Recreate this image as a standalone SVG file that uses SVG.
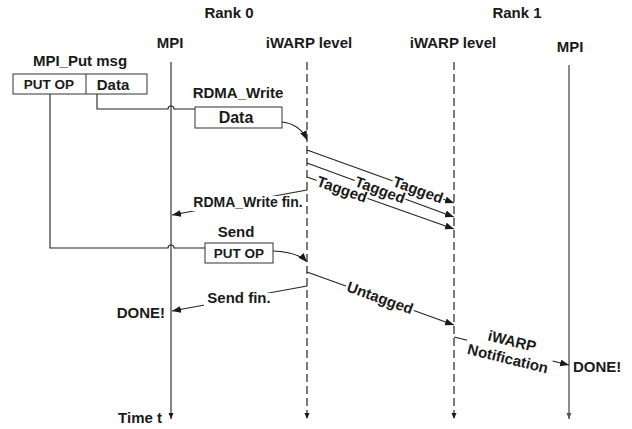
<svg xmlns="http://www.w3.org/2000/svg" width="632" height="429" viewBox="0 0 632 429">
<style>
text{font-family:"Liberation Sans",Arial,sans-serif;font-weight:bold;fill:#1a1a1a;font-size:15px}
.c{text-anchor:middle}
.e{text-anchor:end}
.bx{font-size:13.5px}
.ln{fill:none;stroke:#222;stroke-width:1.1}
.dash{fill:none;stroke:#222;stroke-width:1.2;stroke-dasharray:8 4}
.box{fill:#fff;stroke:#333;stroke-width:1}
.bg{fill:#fff;stroke:none}
</style>
<defs>
<marker id="ah" markerUnits="userSpaceOnUse" markerWidth="10" markerHeight="8" refX="9" refY="3.5" orient="auto">
<path d="M0,0 L9,3.5 L0,7 z" fill="#1a1a1a"/>
</marker>
<marker id="as" markerUnits="userSpaceOnUse" markerWidth="7" markerHeight="6" refX="6" refY="2.5" orient="auto">
<path d="M0,0 L6,2.5 L0,5 z" fill="#1a1a1a"/>
</marker>
<marker id="ag" markerUnits="userSpaceOnUse" markerWidth="7" markerHeight="6" refX="6" refY="2.5" orient="auto">
<path d="M0,0 L6,2.5 L0,5 z" fill="#555"/>
</marker>
</defs>

<g id="headers">
<text class="c" x="229" y="18">Rank 0</text>
<text class="c" x="517" y="18">Rank 1</text>
</g>

<g id="lifeline-mpi0">
<text class="c" x="170" y="48">MPI</text>
<path class="ln" d="M171,62 V419" marker-end="url(#as)"/>
</g>
<g id="lifeline-iwarp0">
<text class="c" x="309" y="48">iWARP level</text>
<path class="dash" d="M307,62 V419" marker-end="url(#as)"/>
</g>
<g id="lifeline-iwarp1">
<text class="c" x="453" y="48">iWARP level</text>
<path class="dash" d="M454,62 V419" marker-end="url(#as)"/>
</g>
<g id="lifeline-mpi1">
<text class="c" x="570" y="52">MPI</text>
<path d="M569,65 V419" fill="none" stroke="#808080" stroke-width="1.8" marker-end="url(#ag)"/>
</g>

<g id="connectors">
<path class="ln" d="M50,94 V248 H168 a3,3 0 0 1 6,0 H205"/>
<path class="ln" d="M97,94 V109 H168 a3,3 0 0 1 6,0 H195"/>
<path class="ln" d="M282,122 Q300,124 307,140" marker-end="url(#ah)"/>
<path class="ln" d="M307,150 L454,203" marker-end="url(#ah)"/>
<path class="ln" d="M307,163 L454,217" marker-end="url(#ah)"/>
<path class="ln" d="M307,177 L454,229" marker-end="url(#ah)"/>
<path class="ln" d="M307,190 L172,215" marker-end="url(#ah)"/>
<path class="ln" d="M273,251 Q298,252 307,262" marker-end="url(#ah)"/>
<path class="ln" d="M307,272 L454,325" marker-end="url(#ah)"/>
<path class="ln" d="M307,286 L172,311" marker-end="url(#ah)"/>
<path class="ln" d="M454,337 L569,365" marker-end="url(#ah)"/>
</g>

<g id="mpi-put-msg">
<text class="c" x="80" y="66">MPI_Put msg</text>
<rect class="box" x="13" y="74" width="134" height="20"/>
<line x1="86" y1="74" x2="86" y2="94" stroke="#333" stroke-width="1"/>
<text class="c bx" x="49" y="89">PUT OP</text>
<text class="c" x="113" y="90">Data</text>
</g>

<g id="rdma-write">
<text class="c" x="238" y="98">RDMA_Write</text>
<rect class="box" x="195" y="107" width="87" height="21"/>
<text class="c" x="236" y="123" style="font-size:16px">Data</text>
</g>

<g id="tagged-labels">
<g transform="translate(418,190) rotate(19.8)"><rect class="bg" x="-27" y="-7" width="54" height="14"/><text class="c" x="0" y="5">Tagged</text></g>
<g transform="translate(380,190) rotate(20.2)"><rect class="bg" x="-27" y="-7" width="54" height="14"/><text class="c" x="0" y="5">Tagged</text></g>
<g transform="translate(342,189.5) rotate(19.5)"><rect class="bg" x="-27" y="-7" width="54" height="14"/><text class="c" x="0" y="5">Tagged</text></g>
</g>

<g id="rdma-write-fin">
<rect class="bg" x="192" y="196" width="112" height="15"/>
<text class="c" x="248" y="207" style="font-size:14px">RDMA_Write fin.</text>
</g>

<g id="send">
<text class="c" x="236" y="237">Send</text>
<rect class="box" x="205" y="243" width="68" height="20"/>
<text class="c bx" x="239" y="258">PUT OP</text>
</g>

<g id="untagged">
<g transform="translate(380,298) rotate(19.8)"><rect class="bg" x="-36" y="-7" width="72" height="14"/><text class="c" x="0" y="5">Untagged</text></g>
</g>

<g id="send-fin">
<rect class="bg" x="204" y="293" width="70" height="14"/>
<text class="c" x="239" y="303">Send fin.</text>
</g>

<g id="done0">
<text class="e" x="165" y="318">DONE!</text>
</g>

<g id="iwarp-notification">
<g transform="translate(510,350) rotate(13.7)"><rect class="bg" x="-44" y="-18" width="88" height="34"/><text class="c" x="0" y="-4">iWARP</text><text class="c" x="0" y="14">Notification</text></g>
</g>

<g id="done1">
<text x="573" y="372">DONE!</text>
</g>

<g id="time">
<text class="e" x="162" y="423">Time t</text>
</g>
</svg>
